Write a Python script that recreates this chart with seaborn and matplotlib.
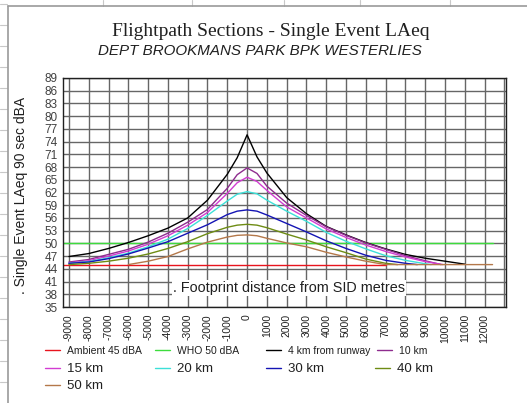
import numpy as np
import pandas as pd
import matplotlib
matplotlib.use("Agg")
import matplotlib.pyplot as plt
from matplotlib.lines import Line2D
import seaborn as sns

# ---------------- data ----------------
x_ticks = list(range(-9000, 13001, 1000))
x_tick_labels = [str(v) for v in range(-9000, 12001, 1000)] + [""]
y_ticks = list(range(35, 90, 3))

series_names = ["Ambient 45 dBA", "WHO 50 dBA", "4 km from runway", "10 km",
                "15 km", "20 km", "30 km", "40 km", "50 km"]
series_colors = ["#E8141E", "#3DDC3D", "#000000", "#8E2C8E",
                 "#D23CD2", "#3CE0D8", "#1414B4", "#6E8C14", "#B4784A"]

ambient_x = [-9300, 7000]
ambient_y = [45, 45]
who_x = [-9300, 12400]
who_y = [50, 50]

km4_x = [-9000, -8000, -7000, -6000, -5000, -4000, -3000, -2000, -1000, -500, 0,
         500, 1000, 2000, 3000, 4000, 5000, 6000, 7000, 8000, 9000, 10000, 11000]
km4_y = [46.9, 47.6, 48.8, 50.2, 51.8, 53.6, 56.0, 60.2, 66.3, 70.2, 75.6,
         70.4, 66.6, 60.8, 57.0, 54.0, 52.0, 50.2, 48.7, 47.4, 46.5, 45.8, 45.1]

km10_x = [-9000, -8000, -7000, -6000, -5000, -4000, -3000, -2000, -1000, -500, 0,
          500, 1000, 2000, 3000, 4000, 5000, 6000, 7000, 8000, 9000, 9800]
km10_y = [45.6, 46.2, 47.4, 48.6, 50.3, 52.4, 55.0, 58.0, 63.0, 66.2, 67.8,
          66.5, 63.5, 59.5, 56.6, 53.9, 51.9, 50.1, 48.6, 47.1, 45.9, 45.0]

km15_x = [-9000, -8000, -7000, -6000, -5000, -4000, -3000, -2000, -1000, -500, 0,
          500, 1000, 2000, 3000, 4000, 5000, 6000, 7000, 8000, 9000, 9900]
km15_y = [45.4, 45.9, 47.0, 48.2, 49.8, 51.8, 54.3, 57.3, 61.8, 64.3, 65.6,
          64.6, 62.5, 58.6, 56.0, 53.4, 51.4, 49.6, 48.1, 46.8, 45.7, 45.0]

km20_x = [-9000, -8000, -7000, -6000, -5000, -4000, -3000, -2000, -1000, -500, 0,
          500, 1000, 2000, 3000, 4000, 5000, 6000, 7000, 8000, 9000, 9300]
km20_y = [45.3, 45.7, 46.6, 47.7, 49.2, 51.0, 53.5, 56.6, 60.0, 61.6, 62.2,
          61.7, 60.2, 57.6, 55.2, 52.6, 50.5, 48.7, 47.1, 46.0, 45.2, 45.0]

km30_x = [-9000, -8000, -7000, -6000, -5000, -4000, -3000, -2000, -1000, -500, 0,
          500, 1000, 2000, 3000, 4000, 5000, 6000, 7000, 8000, 8600]
km30_y = [45.3, 45.6, 46.4, 47.5, 48.9, 50.4, 52.4, 54.4, 56.8, 57.6, 57.9,
          57.6, 56.7, 54.7, 52.7, 50.6, 48.8, 47.2, 46.0, 45.3, 45.0]

km40_x = [-9000, -8000, -7000, -6000, -5000, -4000, -3000, -2000, -1000, -500, 0,
          500, 1000, 2000, 3000, 4000, 5000, 6000, 7000, 7600]
km40_y = [45.0, 45.3, 45.8, 46.5, 47.5, 48.8, 50.4, 52.3, 53.8, 54.3, 54.5,
          54.3, 53.7, 52.2, 50.8, 49.2, 47.8, 46.3, 45.3, 45.0]

km50_x = [-6000, -5000, -4000, -3000, -2000, -1000, -500, 0,
          500, 1000, 2000, 3000, 4000, 5000, 6000, 7000, 12400]
km50_y = [45.0, 45.8, 46.9, 48.7, 50.3, 51.5, 51.9, 52.0,
          51.8, 51.2, 50.1, 49.2, 47.9, 46.8, 45.8, 45.0, 45.0]

series_x = [ambient_x, who_x, km4_x, km10_x, km15_x, km20_x, km30_x, km40_x, km50_x]
series_y = [ambient_y, who_y, km4_y, km10_y, km15_y, km20_y, km30_y, km40_y, km50_y]

frames = []
for name, xs, ys in zip(series_names, series_x, series_y):
    frames.append(pd.DataFrame({"x": xs, "y": ys, "series": name,
                                "order": np.arange(len(xs))}))
df = pd.concat(frames, ignore_index=True)

# ---------------- figure ----------------
sns.set_theme(style="white")
plt.rcParams["font.family"] = ["Liberation Sans", "DejaVu Sans"]

W, H = 527, 403
fig = plt.figure(figsize=(W / 100, H / 100), dpi=100)
fig.patch.set_facecolor("white")

def fx(px):
    return px / W

def fy(py):
    return 1 - py / H

# spreadsheet cell lines around the embedded chart
for xv in [103, 192, 284, 360, 450]:
    fig.add_artist(Line2D([fx(xv), fx(xv)], [fy(0), fy(6)], color="#c8c8c8", lw=0.8))
for yv in range(4, 403, 21):
    fig.add_artist(Line2D([fx(0), fx(7)], [fy(yv), fy(yv)], color="#c8c8c8", lw=0.8))
fig.add_artist(Line2D([fx(8), fx(8)], [fy(6), fy(403)], color="#9a9a9a", lw=1.2))
fig.add_artist(Line2D([fx(8), fx(527)], [fy(6), fy(6)], color="#9a9a9a", lw=1.2))

ax = fig.add_axes([fx(63), fy(307), (506 - 63) / W, (307 - 78) / H])
ax.set_facecolor("white")

sns.lineplot(data=df, x="x", y="y", hue="series", hue_order=series_names,
             palette=dict(zip(series_names, series_colors)), sort=False,
             estimator=None, units="series", legend=False, linewidth=1.0, ax=ax)

ax.set_xlim(-9300, 13080)
ax.set_ylim(35, 89)
ax.set_xticks(x_ticks)
ax.set_xticklabels(x_tick_labels, rotation=90, fontsize=7.5, color="#202020")
ax.set_yticks(y_ticks)
ax.set_yticklabels([str(v) for v in y_ticks], fontsize=8.5, color="#404040")
ax.tick_params(axis="both", length=0)
ax.tick_params(axis="x", pad=5)
ax.tick_params(axis="y", pad=4)
ax.grid(True, color="#666666", linewidth=1.0)
ax.set_axisbelow(True)
for sp in ax.spines.values():
    sp.set_color("#202020")
    sp.set_linewidth(1.0)

ax.set_xlabel("")
ax.set_ylabel(". Single Event LAeq 90 sec dBA", fontsize=10, color="#202020")
ax.yaxis.set_label_coords((28 - 63) / 443, (307 - 195) / 229)

ax.text((289 - 63) / 443, (307 - 288) / 229, ". Footprint distance from SID metres",
        transform=ax.transAxes, ha="center", va="center", fontsize=10.4,
        color="#202020", bbox=dict(facecolor="white", edgecolor="none", pad=0.5))

fig.text(fx(271), fy(31), "Flightpath Sections - Single Event LAeq",
         family=["Liberation Serif", "DejaVu Serif"], fontsize=14,
         ha="center", va="center", color="#202020")
fig.text(fx(260), fy(51), "DEPT BROOKMANS PARK BPK WESTERLIES",
         fontsize=10.9, style="italic", ha="center", va="center", color="#202020")

# legend entries (Excel-like fixed grid)
legend_pos = [(45, 351, 7.5), (155, 351, 7.5), (266, 351, 7.5), (377, 351, 7.5),
              (45, 369, 9.5), (155, 369, 9.5), (266, 369, 9.5), (375, 369, 9.5),
              (45, 386, 9.5)]
for name, color, (lx, ly, fs) in zip(series_names, series_colors, legend_pos):
    em = fs * 100 / 72
    handle = Line2D([], [], color=color, lw=1.0)
    fig.legend([handle], [name], loc="center left",
               bbox_to_anchor=(fx(lx), fy(ly)), frameon=False, fontsize=fs,
               handlelength=15 / em, handletextpad=7 / em, borderpad=0,
               borderaxespad=0, labelcolor="#202020")

fig.savefig("out.png", dpi=100, facecolor="white")
